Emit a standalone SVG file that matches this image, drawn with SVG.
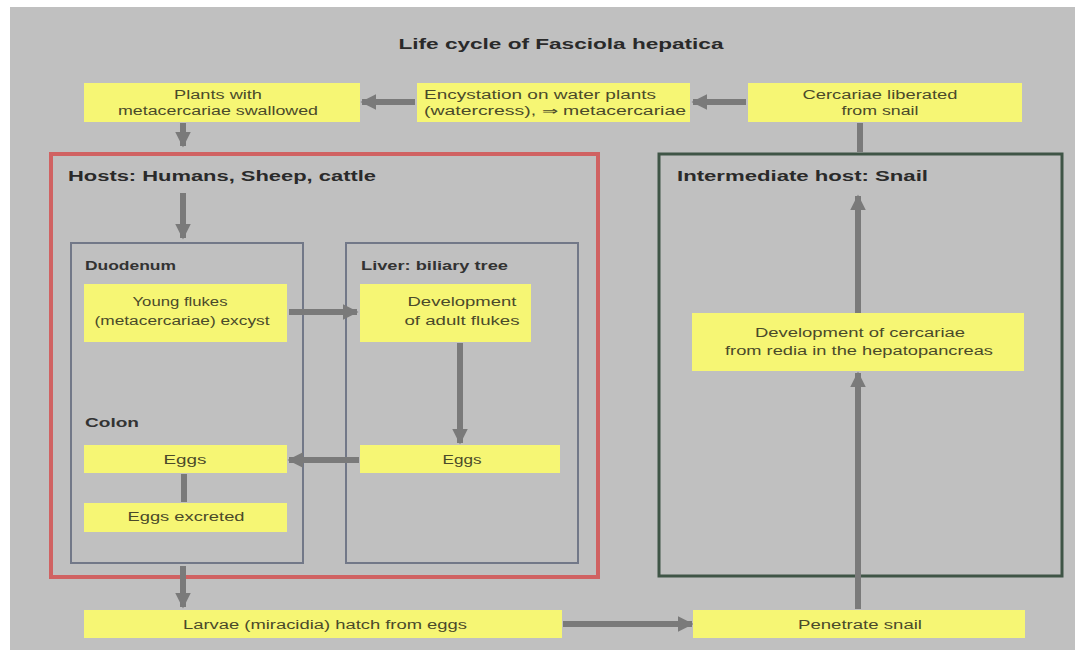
<svg xmlns="http://www.w3.org/2000/svg" width="1082" height="657" viewBox="0 0 1082 657">
<style>
.box{fill:#f6f674;stroke:none}
.t{font-family:"Liberation Sans",Arial,sans-serif;font-size:12px;fill:#4a4a2a;text-anchor:middle}
.h{font-family:"Liberation Sans",Arial,sans-serif;font-size:14px;font-weight:bold;fill:#2a2a2a}
.s{font-family:"Liberation Sans",Arial,sans-serif;font-size:12px;font-weight:bold;fill:#333}
.c{stroke:#7a7a7a;stroke-width:6;fill:none}
.ca{stroke:#7a7a7a;stroke-width:6;fill:none;marker-end:url(#ah)}
</style>
<defs>
<marker id="ah" viewBox="0 0 10 10" refX="9" refY="5" markerWidth="2.6" markerHeight="2.6" orient="auto" markerUnits="strokeWidth">
<path d="M0,0 L10,5 L0,10 Z" fill="#7a7a7a"/>
</marker>
</defs>
<rect x="0" y="0" width="1082" height="657" fill="#ffffff"/>
<rect x="10" y="7" width="1065" height="643" fill="#c0c0c0"/>
<text class="h" x="561" y="49" text-anchor="middle" textLength="325" lengthAdjust="spacingAndGlyphs">Life cycle of Fasciola hepatica</text>

<g id="hosts">
<rect x="51" y="154" width="547" height="423" fill="none" stroke="#d06262" stroke-width="4"/>
<text class="h" x="68" y="181" textLength="308" lengthAdjust="spacingAndGlyphs">Hosts: Humans, Sheep, cattle</text>
</g>
<g id="snail">
<rect x="659" y="154" width="403" height="422" fill="none" stroke="#3f5546" stroke-width="3"/>
<text class="h" x="677" y="181" textLength="251" lengthAdjust="spacingAndGlyphs">Intermediate host: Snail</text>
</g>
<g id="duodenum">
<rect x="71" y="243" width="232" height="320" fill="none" stroke="#727888" stroke-width="2"/>
<text class="s" x="85" y="270" textLength="91" lengthAdjust="spacingAndGlyphs">Duodenum</text>
<text class="s" x="85" y="427" textLength="54" lengthAdjust="spacingAndGlyphs">Colon</text>
</g>
<g id="liver">
<rect x="346" y="243" width="232" height="320" fill="none" stroke="#727888" stroke-width="2"/>
<text class="s" x="361" y="270" textLength="147" lengthAdjust="spacingAndGlyphs">Liver: biliary tree</text>
</g>

<g id="connectors">
<line class="ca" x1="415" y1="102" x2="362" y2="102"/>
<line class="ca" x1="746" y1="102" x2="693" y2="102"/>
<line class="ca" x1="183" y1="123" x2="183" y2="146"/>
<line class="ca" x1="183" y1="193" x2="183" y2="238"/>
<line class="ca" x1="289" y1="312" x2="357" y2="312"/>
<line class="ca" x1="460" y1="343" x2="460" y2="443"/>
<line class="ca" x1="359" y1="460" x2="289" y2="460"/>
<line class="c" x1="184" y1="474" x2="184" y2="502"/>
<line class="ca" x1="183" y1="566" x2="183" y2="607"/>
<line class="ca" x1="563" y1="624" x2="692" y2="624"/>
<line class="ca" x1="858" y1="609" x2="858" y2="373"/>
<line class="ca" x1="858" y1="313" x2="858" y2="196"/>
<line class="c" x1="860" y1="123" x2="860" y2="152"/>
</g>

<g id="n-plants">
<rect class="box" x="84" y="83" width="276" height="39"/>
<text class="t" x="218" y="99" textLength="88" lengthAdjust="spacingAndGlyphs">Plants with</text>
<text class="t" x="218" y="115" textLength="200" lengthAdjust="spacingAndGlyphs">metacercariae swallowed</text>
</g>
<g id="n-encyst">
<rect class="box" x="417" y="83" width="273" height="39"/>
<text class="t" x="540" y="99" textLength="232" lengthAdjust="spacingAndGlyphs">Encystation on water plants</text>
<text class="t" x="555" y="115" textLength="262" lengthAdjust="spacingAndGlyphs">(watercress), ⇒ metacercariae</text>
</g>
<g id="n-cercariae">
<rect class="box" x="748" y="83" width="274" height="39"/>
<text class="t" x="880" y="99" textLength="155" lengthAdjust="spacingAndGlyphs">Cercariae liberated</text>
<text class="t" x="880" y="115" textLength="77" lengthAdjust="spacingAndGlyphs">from snail</text>
</g>
<g id="n-young">
<rect class="box" x="84" y="284" width="203" height="58"/>
<text class="t" x="180" y="306" textLength="95" lengthAdjust="spacingAndGlyphs">Young flukes</text>
<text class="t" x="182" y="325" textLength="175" lengthAdjust="spacingAndGlyphs">(metacercariae) excyst</text>
</g>
<g id="n-adult">
<rect class="box" x="360" y="284" width="171" height="58"/>
<text class="t" x="462" y="306" textLength="109" lengthAdjust="spacingAndGlyphs">Development</text>
<text class="t" x="462" y="325" textLength="115" lengthAdjust="spacingAndGlyphs">of adult flukes</text>
</g>
<g id="n-eggs-l">
<rect class="box" x="84" y="445" width="203" height="28"/>
<text class="t" x="185" y="464" textLength="43" lengthAdjust="spacingAndGlyphs">Eggs</text>
</g>
<g id="n-eggs-r">
<rect class="box" x="360" y="445" width="200" height="28"/>
<text class="t" x="462" y="464" textLength="39" lengthAdjust="spacingAndGlyphs">Eggs</text>
</g>
<g id="n-excreted">
<rect class="box" x="84" y="503" width="203" height="29"/>
<text class="t" x="186" y="521" textLength="117" lengthAdjust="spacingAndGlyphs">Eggs excreted</text>
</g>
<g id="n-larvae">
<rect class="box" x="84" y="610" width="478" height="28"/>
<text class="t" x="325" y="629" textLength="284" lengthAdjust="spacingAndGlyphs">Larvae (miracidia) hatch from eggs</text>
</g>
<g id="n-penetrate">
<rect class="box" x="693" y="610" width="332" height="28"/>
<text class="t" x="860" y="629" textLength="124" lengthAdjust="spacingAndGlyphs">Penetrate snail</text>
</g>
<g id="n-devcerc">
<rect class="box" x="692" y="313" width="332" height="58"/>
<text class="t" x="860" y="337" textLength="210" lengthAdjust="spacingAndGlyphs">Development of cercariae</text>
<text class="t" x="859" y="355" textLength="268" lengthAdjust="spacingAndGlyphs">from redia in the hepatopancreas</text>
</g>
</svg>
